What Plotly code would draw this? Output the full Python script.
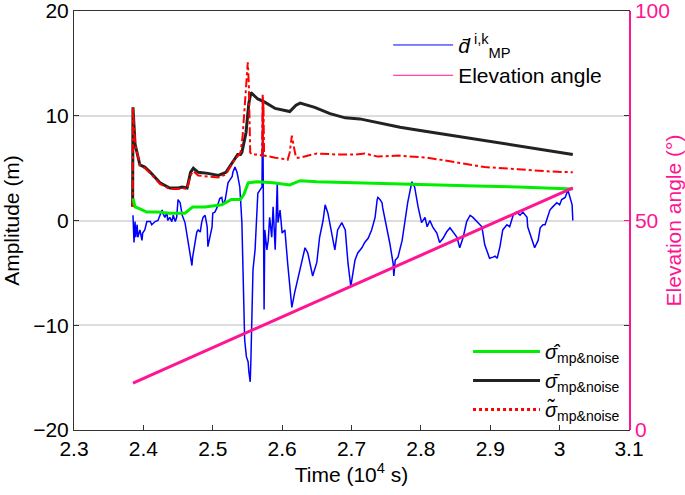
import plotly.graph_objects as go

# ---------------- data (time in 10^4 s, amplitude in m, elevation in deg) ----------------
t_d = [2.385, 2.3865, 2.388, 2.389, 2.391, 2.392, 2.395, 2.398, 2.399, 2.402, 2.405, 2.410, 2.412, 2.417,
       2.421, 2.424, 2.427, 2.428, 2.431, 2.434, 2.435, 2.438, 2.441, 2.443, 2.446, 2.448, 2.450, 2.453,
       2.456, 2.460, 2.464, 2.467, 2.470, 2.471, 2.474, 2.477, 2.479, 2.482, 2.484, 2.486, 2.489, 2.492,
       2.493, 2.496, 2.499, 2.500, 2.503, 2.506, 2.510, 2.513, 2.515, 2.518, 2.520, 2.522, 2.525, 2.528,
       2.529, 2.532, 2.535, 2.536, 2.539, 2.542, 2.5435, 2.545, 2.546, 2.5485, 2.551, 2.552, 2.554, 2.555,
       2.556, 2.558, 2.561, 2.564, 2.565, 2.568, 2.571, 2.572, 2.573, 2.574, 2.575, 2.578, 2.580, 2.582,
       2.585, 2.587, 2.590, 2.593, 2.594, 2.597, 2.600, 2.604, 2.608, 2.614, 2.618, 2.623, 2.629, 2.633,
       2.637, 2.644, 2.650, 2.654, 2.659, 2.662, 2.666, 2.672, 2.676, 2.680, 2.686, 2.691, 2.695, 2.699,
       2.705, 2.709, 2.715, 2.719, 2.724, 2.729, 2.734, 2.737, 2.738, 2.741, 2.744, 2.745, 2.751, 2.755,
       2.760, 2.761, 2.763, 2.767, 2.773, 2.777, 2.781, 2.787, 2.791, 2.796, 2.801, 2.806, 2.809, 2.813,
       2.817, 2.823, 2.827, 2.832, 2.837, 2.842, 2.846, 2.852, 2.856, 2.861, 2.866, 2.871, 2.875, 2.881,
       2.888, 2.892, 2.897, 2.899, 2.904, 2.907, 2.910, 2.914, 2.918, 2.924, 2.928, 2.931, 2.933, 2.938,
       2.943, 2.947, 2.953, 2.954, 2.960, 2.964, 2.969, 2.972, 2.976, 2.979, 2.982, 2.986, 2.990, 2.996,
       3.000, 3.003, 3.008, 3.012, 3.015, 3.018, 3.019]
d_mp = [0.5, -2.1, -0.1, -1.6, -0.4, -1.6, -0.9, -1.9, -1.2, -0.9, -0.1, -0.1, -0.4, -0.1,
        0.0, 0.5, 1.0, 0.7, 0.3, 0.8, 0.0, 0.3, -0.1, 0.5, -0.1, 0.3, 2.0, 1.7,
        0.5, -0.2, -1.9, -3.1, -4.3, -3.5, -2.1, -1.1, -0.9, -1.1, -0.2, 0.3, 0.5, -0.6,
        -2.5, -1.6, -0.6, 0.7, 0.8, 1.2, 2.1, 2.2, 1.5, 2.0, 2.9, 3.6, 3.9, 4.2,
        4.6, 5.1, 4.6, 4.2, 3.2, -0.2, -4.7, -8.1, -11.4, -13.0, -13.5, -14.4, -15.4, -13.3,
        -9.2, -4.7, -2.8, 2.0, 2.6, 2.9, 3.2, 11.8, 0.0, -8.5, -0.9, -2.8, -1.9, 0.3,
        -1.6, 1.3, -2.8, 3.6, -0.2, 1.0, -1.2, -0.9, -4.1, -8.3, -6.9, -5.4, -3.5, -2.6,
        -3.1, -5.3, -4.0, -1.6, 0.0, 1.5, 0.7, -1.6, -2.8, -0.9, -0.2, -0.9, -4.1, -6.3,
        -3.8, -3.1, -2.6, -2.1, -1.7, -0.9, 0.3, 2.0, 2.2, 2.0, 1.7, 1.2, -0.6, -2.1,
        -4.1, -5.3, -3.8, -3.5, -1.9, -0.2, 1.7, 3.7, 3.2, 1.3, -0.2, 0.3, -0.6, 0.0,
        -0.6, -1.2, -2.1, -1.7, -1.1, -0.7, -1.1, -1.6, -2.6, -1.6, -0.1, 0.5, 0.3, -0.1,
        -0.6, -2.3, -3.1, -3.6, -3.5, -3.4, -3.6, -2.5, -0.9, -0.4, -0.6, 0.0, 0.5, 0.8,
        0.5, 0.8, 0.3, -0.6, -1.9, -2.6, -1.9, -0.7, -0.4, -0.4, 0.2, 1.0, 1.3, 1.7,
        1.5, 2.0, 2.2, 2.9, 2.2, 1.5, 0.0]

t_hat = [2.385, 2.388, 2.395, 2.405, 2.420, 2.438, 2.460, 2.471, 2.489, 2.513, 2.527, 2.540, 2.545,
         2.551, 2.564, 2.587, 2.611, 2.626, 2.650, 2.700, 2.760, 2.820, 2.880, 2.940, 3.000, 3.019]
sig_hat = [2.1, 1.3, 1.1, 0.8, 0.8, 0.7, 0.7, 1.3, 1.3, 1.5, 2.0, 2.0, 2.5,
           3.6, 3.7, 3.6, 3.4, 3.8, 3.7, 3.6, 3.5, 3.4, 3.3, 3.2, 3.0, 3.0]

t_bar = [2.3845, 2.385, 2.388, 2.395, 2.402, 2.410, 2.424, 2.438, 2.450, 2.456, 2.463, 2.468, 2.472,
         2.479, 2.493, 2.508, 2.519, 2.526, 2.532, 2.536, 2.540, 2.542, 2.548, 2.552, 2.555, 2.565,
         2.575, 2.590, 2.611, 2.620, 2.626, 2.647, 2.669, 2.691, 2.712, 2.741, 2.770, 2.799, 2.827,
         2.856, 2.885, 2.914, 2.943, 2.972, 3.000, 3.019]
sig_bar = [1.3, 10.8, 7.3, 5.3, 5.1, 4.6, 3.6, 3.1, 3.1, 3.2, 3.1, 4.6, 5.0,
           4.6, 4.5, 4.3, 4.6, 5.3, 6.0, 6.3, 6.3, 6.5, 8.4, 11.2, 12.2, 11.6,
           11.3, 10.7, 10.4, 11.0, 11.2, 10.8, 10.2, 9.8, 9.7, 9.3, 8.9, 8.6, 8.3,
           8.0, 7.7, 7.4, 7.1, 6.8, 6.5, 6.3]

t_til = [2.3845, 2.385, 2.388, 2.395, 2.402, 2.410, 2.424, 2.438, 2.450, 2.456, 2.463, 2.468, 2.472,
         2.479, 2.493, 2.508, 2.519, 2.526, 2.532, 2.537, 2.540, 2.543, 2.546, 2.549, 2.5505, 2.552,
         2.553, 2.554, 2.556, 2.566, 2.571, 2.572, 2.5725, 2.573, 2.574, 2.580, 2.590, 2.600, 2.608,
         2.611, 2.614, 2.617, 2.620, 2.626, 2.650, 2.680, 2.705, 2.719, 2.738, 2.767, 2.809, 2.856,
         2.892, 2.940, 2.980, 3.019]
sig_til = [1.3, 10.8, 7.3, 5.3, 5.0, 4.5, 3.5, 3.0, 3.0, 3.1, 3.0, 4.3, 4.7,
           4.3, 4.2, 4.1, 4.4, 5.2, 5.9, 6.2, 6.5, 8.0, 11.0, 13.5, 15.1, 13.0,
           10.0, 6.5, 6.3, 6.3, 6.2, 12.0, 6.5, 11.5, 6.2, 6.1, 6.0, 5.9, 5.8,
           6.5, 8.1, 7.0, 6.0, 6.0, 6.4, 6.3, 6.3, 6.4, 6.1, 6.2, 6.0, 5.5,
           5.1, 4.9, 4.7, 4.6]

t_elev = [2.385, 2.700, 3.019]
elev = [11.2, 34.4, 57.8]

x_ticks = [2.3, 2.4, 2.5, 2.6, 2.7, 2.8, 2.9, 3.0, 3.1]
x_ticklabels = ["2.3", "2.4", "2.5", "2.6", "2.7", "2.8", "2.9", "3", "3.1"]

PINK = "#FF1493"
FONT = "Liberation Sans, Arial, sans-serif"

fig = go.Figure()

fig.add_trace(go.Scatter(x=t_elev, y=elev, yaxis="y2", mode="lines",
                         line=dict(color=PINK, width=3), showlegend=False, hoverinfo="skip"))
fig.add_trace(go.Scatter(x=t_d, y=d_mp, mode="lines",
                         line=dict(color="#0000FF", width=1.5), showlegend=False))
fig.add_trace(go.Scatter(x=t_bar, y=sig_bar, mode="lines",
                         line=dict(color="#222222", width=3), showlegend=False))
fig.add_trace(go.Scatter(x=t_til, y=sig_til, mode="lines",
                         line=dict(color="#FF0000", width=2, dash="dashdot"), showlegend=False))
fig.add_trace(go.Scatter(x=t_hat, y=sig_hat, mode="lines",
                         line=dict(color="#00EE00", width=3), showlegend=False))

# legend entries (top)
fig.add_trace(go.Scatter(x=[None], y=[None], mode="lines", line=dict(color="#0000FF", width=1),
                         name="<i>d̄</i><sup> i,k</sup><sub>MP</sub>", legend="legend"))
fig.add_trace(go.Scatter(x=[None], y=[None], mode="lines", line=dict(color=PINK, width=1),
                         name="Elevation angle", legend="legend"))
# legend entries (bottom)
fig.add_trace(go.Scatter(x=[None], y=[None], mode="lines", line=dict(color="#00EE00", width=3),
                         name="<i>σ̂</i><sub>mp&amp;noise</sub>", legend="legend2"))
fig.add_trace(go.Scatter(x=[None], y=[None], mode="lines", line=dict(color="#222222", width=3),
                         name="<i>σ̄</i><sub>mp&amp;noise</sub>", legend="legend2"))
fig.add_trace(go.Scatter(x=[None], y=[None], mode="lines", line=dict(color="#FF0000", width=3, dash="dot"),
                         name="<i>σ̃</i><sub>mp&amp;noise</sub>", legend="legend2"))

fig.update_layout(
    width=685, height=495,
    margin=dict(l=74, r=56, t=11, b=65, autoexpand=False),
    plot_bgcolor="white", paper_bgcolor="white",
    font=dict(family=FONT, size=21, color="black"),
    xaxis=dict(range=[2.3, 3.1], tickvals=x_ticks, ticktext=x_ticklabels, automargin=False,
               ticks="inside", ticklen=5, tickcolor="#333", showline=True, linecolor="#333",
               linewidth=1, mirror=True, showgrid=False, zeroline=False,
               tickfont=dict(size=21), ticklabeloverflow="allow",
               title=dict(text="Time (10<sup>4</sup> s)", standoff=2, font=dict(size=21))),
    yaxis=dict(range=[-20, 20], tickvals=[-20, -10, 0, 10, 20], automargin=False,
               ticktext=["\u221220", "\u221210", "0", "10", "20"],
               ticks="inside", ticklen=5, tickcolor="#333", showline=True, linecolor="#333",
               linewidth=1, mirror="ticks", showgrid=True, gridcolor="#DDDDDD", gridwidth=1.5,
               zeroline=False, tickfont=dict(size=21), ticklabeloverflow="allow",
               title=dict(text="Amplitude (m)", standoff=8, font=dict(size=21))),
    yaxis2=dict(range=[0, 100], tickvals=[0, 50, 100], overlaying="y", side="right",
                automargin=False, ticklabeloverflow="allow",
                ticks="inside", ticklen=5, tickcolor=PINK, showline=True, linecolor=PINK,
                linewidth=1.5, showgrid=False, zeroline=False,
                tickfont=dict(color=PINK, size=21),
                title=dict(text="Elevation angle (°)", font=dict(color=PINK, size=21), standoff=0)),
    legend=dict(x=0.566, y=0.967, xanchor="left", yanchor="top", bgcolor="rgba(0,0,0,0)",
                font=dict(size=21), tracegroupgap=0, itemwidth=60),
    legend2=dict(x=0.71, y=0.234, xanchor="left", yanchor="top", bgcolor="rgba(0,0,0,0)",
                 font=dict(size=20), tracegroupgap=0, itemwidth=67),
)

fig.write_html("out.html", config={"displayModeBar": False},
               post_script="document.body.style.margin='0px';document.body.style.overflow='hidden';")
